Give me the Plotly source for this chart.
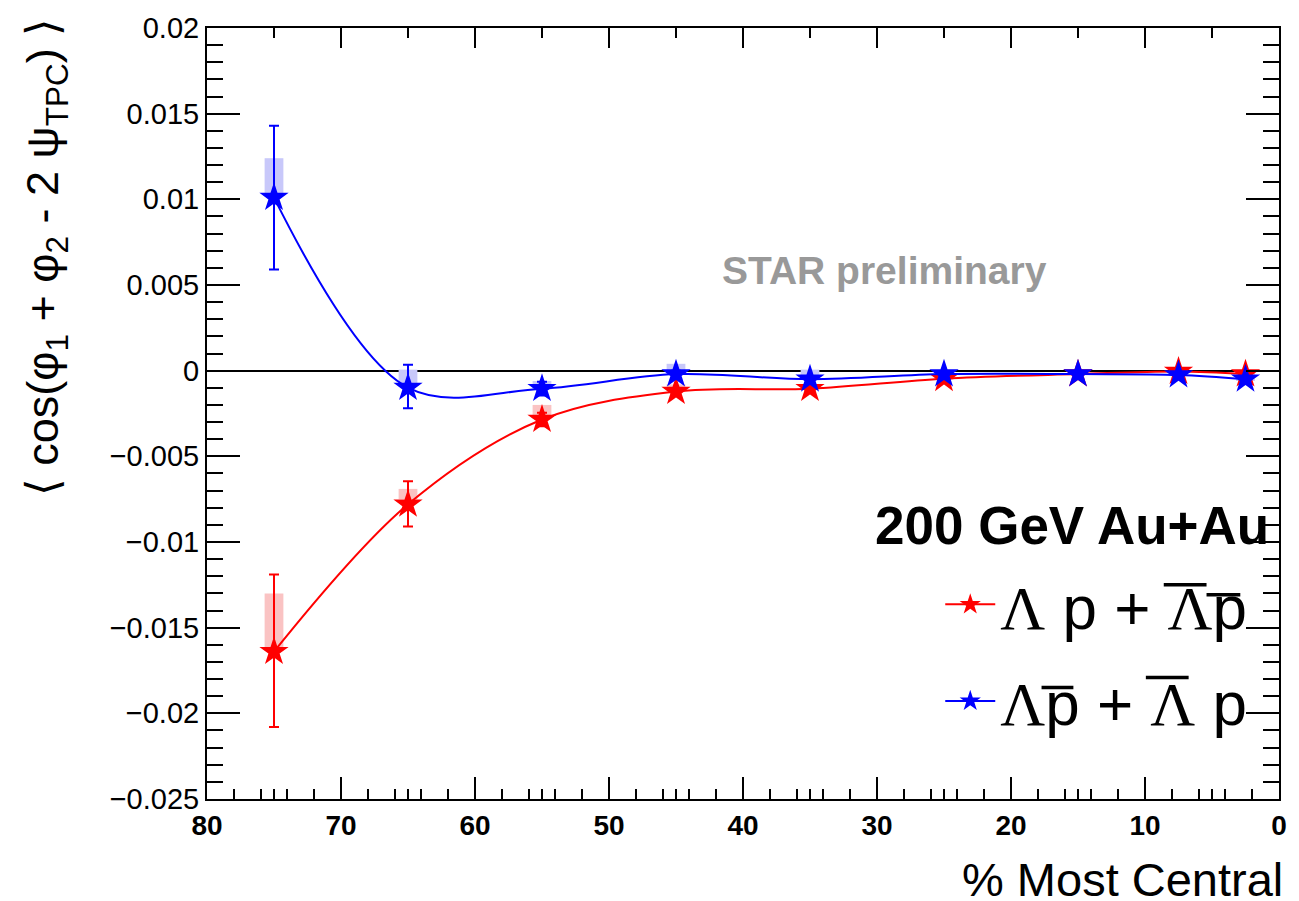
import plotly.graph_objects as go

# ---------------- data ----------------
centrality = [75, 65, 55, 45, 35, 25, 15, 7.5, 2.5]

red_val = [-0.0164, -0.0078, -0.00285, -0.00122, -0.00105, -0.00047, -0.0002, -0.00005, -0.0002]
red_err_up = [0.0045, 0.00135, 0.0004, 0.00015, 0.00015, 0.0001, 0.0001, 0.0001, 0.0001]
red_err_dn = [0.0044, 0.0013, 0.0004, 0.00015, 0.00015, 0.0001, 0.0001, 0.0001, 0.0001]
red_sys_lo = [-0.0162, -0.0075, -0.0028, -0.0011, -0.0011, -0.0005, -0.00025, -0.0001, -0.00025]
red_sys_hi = [-0.0130, -0.0069, -0.0020, -0.0008, -0.0009, -0.0004, -0.00015, 0.0000, -0.00015]

blue_val = [0.0101, -0.00099, -0.00105, -0.0002, -0.0005, -0.0002, -0.0002, -0.00025, -0.0005]
blue_err_up = [0.0042, 0.00134, 0.0004, 0.0002, 0.00015, 0.0001, 0.0001, 0.0001, 0.0001]
blue_err_dn = [0.0042, 0.0012, 0.0004, 0.0002, 0.00015, 0.0001, 0.0001, 0.0001, 0.0001]
blue_sys_lo = [0.0102, -0.00076, -0.0011, -0.00023, -0.00035, -0.00025, -0.00025, -0.0003, -0.00055]
blue_sys_hi = [0.0124, 0.00006, -0.0006, 0.0004, 0.00006, -0.00015, -0.00015, -0.0002, -0.00045]

x_major = list(range(0, 81, 10))
x_minor_bottom = [v for v in range(2, 80, 2) if v % 10 != 0] + [v for v in range(5, 80, 10)]

SERIF = "Liberation Serif"
red_name = (f'<span style="font-family:{SERIF}">Λ</span> p + '
            f'<span style="font-family:{SERIF}">Λ</span>p')
blue_name = (f'<span style="font-family:{SERIF}">Λ</span>p + '
             f'<span style="font-family:{SERIF}">Λ</span> p')

RED = "#ff0000"
BLUE = "#0000ff"

fig = go.Figure()

# systematic boxes
fig.add_trace(go.Bar(
    x=centrality, base=red_sys_lo,
    y=[h - l for h, l in zip(red_sys_hi, red_sys_lo)],
    width=1.4, marker=dict(color="rgba(250,195,195,1)", line=dict(width=0)),
    showlegend=False, hoverinfo="skip"))
fig.add_trace(go.Bar(
    x=centrality, base=blue_sys_lo,
    y=[h - l for h, l in zip(blue_sys_hi, blue_sys_lo)],
    width=1.4, marker=dict(color="rgba(200,200,250,1)", line=dict(width=0)),
    showlegend=False, hoverinfo="skip"))

fig.add_trace(go.Scatter(
    x=centrality, y=red_val, mode="lines+markers", name=red_name, legendgroup="a",
    line=dict(color=RED, width=2, shape="spline", smoothing=1.0),
    marker=dict(symbol="star", size=22, color=RED, line=dict(width=0)),
    error_y=dict(type="data", symmetric=False, array=red_err_up, arrayminus=red_err_dn,
                 color=RED, thickness=2, width=5)))
fig.add_trace(go.Scatter(
    x=centrality, y=blue_val, mode="lines+markers", name=blue_name, legendgroup="b",
    line=dict(color=BLUE, width=2, shape="spline", smoothing=1.0),
    marker=dict(symbol="star", size=22, color=BLUE, line=dict(width=0)),
    error_y=dict(type="data", symmetric=False, array=blue_err_up, arrayminus=blue_err_dn,
                 color=BLUE, thickness=2, width=5)))

# invisible trace on top axis
fig.add_trace(go.Scatter(x=[], y=[], xaxis="x2", showlegend=False))

fig.update_layout(
    width=1299, height=901,
    margin=dict(l=207, r=13, t=25, b=102),
    plot_bgcolor="white", paper_bgcolor="white",
    barmode="overlay",
    font=dict(family="Liberation Sans", color="black"),
    showlegend=True,
    legend=dict(x=0.684, y=0.1893, xanchor="left", yanchor="middle",
                font=dict(size=62, family="Liberation Sans"),
                bgcolor="rgba(0,0,0,0)", itemwidth=50, tracegroupgap=13),
    xaxis=dict(range=[80, 0], showline=True, linecolor="black", linewidth=2,
               ticks="inside", tickvals=x_major, ticklen=22, tickwidth=2, tickcolor="black",
               minor=dict(tickvals=x_minor_bottom, ticklen=10, tickwidth=2, tickcolor="black", ticks="inside"),
               tickfont=dict(size=28, family="Liberation Sans", weight="bold"),
               showgrid=False, zeroline=False, mirror=False),
    xaxis2=dict(range=[80, 0], overlaying="x", side="top", anchor="y", matches="x",
                showline=True, linecolor="black", linewidth=2,
                ticks="inside", tickvals=x_major, ticklen=20, tickwidth=2, tickcolor="black",
                minor=dict(dtick=5, tick0=0, ticklen=10, tickwidth=2, tickcolor="black", ticks="inside"),
                showticklabels=False, showgrid=False, zeroline=False),
    yaxis=dict(range=[-0.025, 0.02], showline=True, linecolor="black", linewidth=2,
               ticks="inside", dtick=0.005, tick0=0, ticklen=33, tickwidth=2, tickcolor="black",
               minor=dict(dtick=0.001, tick0=0, ticklen=16, tickwidth=2, tickcolor="black", ticks="inside"),
               tickfont=dict(size=29, family="Liberation Sans"),
               showgrid=False, zeroline=True, zerolinecolor="black", zerolinewidth=2,
               mirror="ticks"),
)

# overlines for the antiparticle symbols in the legend
overlines = [
    (0.8925, 0.9324, 0.2778),
    (0.9324, 0.9639, 0.2649),
    (0.7785, 0.8082, 0.1447),
    (0.8758, 0.9157, 0.1576),
]
for x0, x1, yy in overlines:
    fig.add_shape(type="line", xref="paper", yref="paper", x0=x0, x1=x1, y0=yy, y1=yy,
                  line=dict(color="black", width=3.5), layer="above")

fig.add_annotation(
    text="⟨ cos(φ<sub>1</sub> + φ<sub>2</sub> - 2 ψ<sub>TPC</sub>) ⟩",
    textangle=-90, xref="paper", yref="paper", x=-0.150, y=0.703,
    xanchor="center", yanchor="middle", showarrow=False,
    font=dict(size=45, family="Liberation Sans", color="black"))
fig.add_annotation(
    text="% Most Central", xref="paper", yref="paper", x=1.006, y=-0.104,
    xanchor="right", yanchor="middle", showarrow=False,
    font=dict(size=47, family="Liberation Sans", color="black"))
fig.add_annotation(
    text="<b>200 GeV Au+Au</b>", xref="paper", yref="paper", x=0.993, y=0.3553,
    xanchor="right", yanchor="middle", showarrow=False,
    font=dict(size=53, family="Liberation Sans", color="black"))
fig.add_annotation(
    text="<b>STAR preliminary</b>", xref="paper", yref="paper", x=0.632, y=0.686,
    xanchor="center", yanchor="middle", showarrow=False,
    font=dict(size=39, family="Liberation Sans", color="#999999"))

fig.write_html("out.html")
